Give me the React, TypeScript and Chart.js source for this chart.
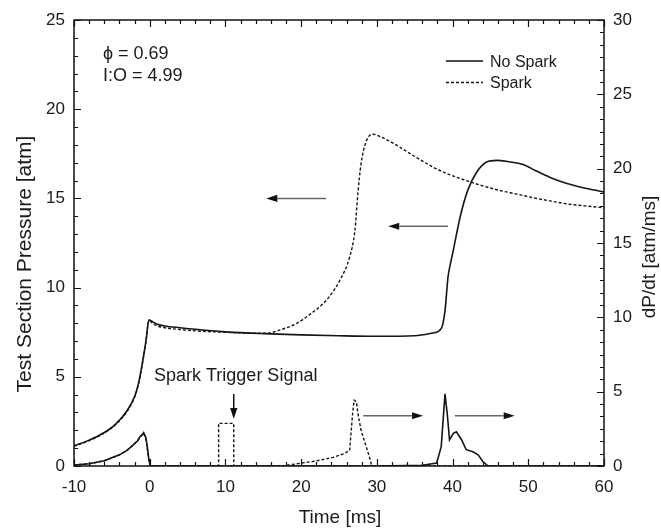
import React, { useEffect, useRef } from "react";
import { Chart, registerables } from "chart.js";

Chart.register(...registerables);

const FONT = "'Liberation Sans', Arial, Helvetica, sans-serif";

// ---- Pressure, no spark (left axis, atm)
const timeNoSparkP = [-10, -8, -6, -4.5, -3, -2, -1.5, -1, -0.5, -0.1, 0.5, 1, 2, 4, 7, 10, 15, 20, 25, 30, 35, 37.4, 38.5, 39, 39.4, 39.75, 40.1, 41, 42, 43.2, 44.5, 45.8, 47.5, 49.3, 51, 53.3, 55, 56.8, 58.5, 60];
const pressureNoSpark = [1.14, 1.45, 1.88, 2.35, 3.1, 3.9, 4.6, 5.7, 7.0, 8.2, 8.05, 7.95, 7.85, 7.75, 7.62, 7.52, 7.42, 7.35, 7.3, 7.27, 7.3, 7.46, 7.7, 8.7, 10.6, 11.4, 12.1, 13.96, 15.45, 16.48, 17.04, 17.13, 17.05, 16.9, 16.55, 16.1, 15.85, 15.64, 15.48, 15.36];

// ---- Pressure, spark (left axis, atm)
const timeSparkP = [-10, -8, -6, -4.5, -3, -2, -1.5, -1, -0.5, -0.1, 0.5, 1, 2, 4, 7, 10, 13, 15.4, 17, 19.4, 21, 22.9, 24, 25.1, 26.4, 27.1, 27.5, 27.9, 28.6, 29.5, 30.5, 31.7, 33, 35, 37.4, 39.5, 41.8, 44, 46.2, 48.5, 50.6, 53, 55, 57.5, 60];
const pressureSpark = [1.1, 1.42, 1.85, 2.32, 3.05, 3.85, 4.55, 5.65, 6.95, 8.15, 7.95, 7.85, 7.75, 7.65, 7.55, 7.5, 7.45, 7.44, 7.6, 7.99, 8.45, 9.1, 9.65, 10.4, 11.7, 13.2, 15.3, 16.9, 18.2, 18.6, 18.45, 18.2, 17.88, 17.35, 16.76, 16.35, 16.0, 15.7, 15.45, 15.24, 15.04, 14.85, 14.7, 14.58, 14.48];

// ---- dP/dt, no spark (right axis, atm/ms)
const timeNoSparkD = [-10, -8, -6, -5, -4, -3, -2.2, -1.6, -1.3, -1.0, -0.8, -0.5, -0.3, -0.1, 0.1, 5, 10, 20, 30, 36, 37.9, 38.5, 39, 39.3, 39.6, 40.1, 40.5, 41.2, 41.8, 42.7, 43.4, 44, 44.7, 50, 60];
const dpdtNoSpark = [0.07, 0.15, 0.35, 0.55, 0.75, 1.05, 1.41, 1.7, 1.97, 2.1, 2.24, 1.9, 1.2, 0.4, 0, 0, 0, 0, 0, 0.05, 0.2, 1.3, 4.85, 3.5, 1.75, 2.2, 2.3, 1.75, 1.1, 0.96, 0.74, 0.3, 0, 0, 0];

// ---- dP/dt, spark incl. trigger signal (right axis, atm/ms)
const timeSparkD = [-10, -8, -6, -5, -4, -3, -2.2, -1.6, -1.3, -1.0, -0.8, -0.5, -0.3, -0.1, 0.1, 9.1, 9.1, 11.1, 11.1, 17.5, 19.8, 22, 24.2, 25.5, 26.4, 26.8, 27, 27.3, 27.5, 27.9, 28.6, 29, 29.3, 29.6, 60];
const dpdtSpark = [0.07, 0.15, 0.35, 0.55, 0.75, 1.05, 1.41, 1.7, 1.9, 2.1, 2.2, 1.8, 1.1, 0.3, 0, 0, 2.87, 2.87, 0, 0, 0.18, 0.34, 0.58, 0.8, 1.03, 3.54, 4.43, 4.32, 3.54, 2.42, 1.3, 0.63, 0.07, 0, 0];

// ---- axes
const xRange = [-10, 60];
const leftRange = [0, 25];
const rightRange = [0, 30];

// ---- annotation arrows in data coordinates [t0, v0, t1, v1] (head at t1,v1)
const arrowsLeft = [
  [23.3, 15.0, 15.4, 15.0],
  [39.4, 13.44, 31.5, 13.44],
];
const arrowsRight = [
  [28.2, 3.38, 36.1, 3.38],
  [40.3, 3.38, 48.2, 3.38],
];
const triggerArrow = [11.1, 4.03, 11.1, 2.63];

const pts = (xs: number[], ys: number[]) => xs.map((x, i) => ({ x, y: ys[i] }));

function drawArrow(ctx: CanvasRenderingContext2D, x0: number, y0: number, x1: number, y1: number, lineColor: string, headColor: string) {
  const ang = Math.atan2(y1 - y0, x1 - x0);
  const L = 11, W = 3.6;
  const bx = x1 - L * Math.cos(ang), by = y1 - L * Math.sin(ang);
  ctx.strokeStyle = lineColor;
  ctx.lineWidth = 1.5;
  ctx.setLineDash([]);
  ctx.beginPath();
  ctx.moveTo(x0, y0);
  ctx.lineTo(bx, by);
  ctx.stroke();
  ctx.fillStyle = headColor;
  ctx.beginPath();
  ctx.moveTo(x1, y1);
  ctx.lineTo(bx - W * Math.sin(ang), by + W * Math.cos(ang));
  ctx.lineTo(bx + W * Math.sin(ang), by - W * Math.cos(ang));
  ctx.closePath();
  ctx.fill();
}

const decorPlugin = {
  id: "decor",
  afterDraw(chart: any) {
    const { ctx, chartArea: a, scales } = chart;
    const sx = scales.x, sy = scales.y, sy2 = scales.y2;
    ctx.save();
    // frame
    ctx.strokeStyle = "#111";
    ctx.lineWidth = 1.5;
    ctx.setLineDash([]);
    ctx.strokeRect(a.left, a.top, a.right - a.left, a.bottom - a.top);
    // inward ticks on all four sides
    ctx.lineWidth = 1.2;
    ctx.beginPath();
    for (let t = xRange[0]; t <= xRange[1] + 1e-9; t += 2) {
      const px = Math.round(sx.getPixelForValue(t)) + 0.5;
      const len = Math.abs(t % 10) < 1e-6 ? 7 : 4;
      ctx.moveTo(px, a.bottom); ctx.lineTo(px, a.bottom - len);
      ctx.moveTo(px, a.top); ctx.lineTo(px, a.top + len);
    }
    for (let v = leftRange[0]; v <= leftRange[1] + 1e-9; v += 1) {
      const py = Math.round(sy.getPixelForValue(v)) + 0.5;
      const len = Math.abs(v % 5) < 1e-6 ? 7 : 4;
      ctx.moveTo(a.left, py); ctx.lineTo(a.left + len, py);
    }
    for (let k = 0; k <= 36; k++) {
      const v = (k * 5) / 6;
      const py = Math.round(sy2.getPixelForValue(v)) + 0.5;
      const len = k % 6 === 0 ? 7 : 4;
      ctx.moveTo(a.right, py); ctx.lineTo(a.right - len, py);
    }
    ctx.stroke();

    // arrows
    for (const [t0, v0, t1, v1] of arrowsLeft) {
      drawArrow(ctx, sx.getPixelForValue(t0), sy.getPixelForValue(v0), sx.getPixelForValue(t1), sy.getPixelForValue(v1), "#666", "#111");
    }
    for (const [t0, v0, t1, v1] of arrowsRight) {
      drawArrow(ctx, sx.getPixelForValue(t0), sy2.getPixelForValue(v0), sx.getPixelForValue(t1), sy2.getPixelForValue(v1), "#666", "#111");
    }
    {
      const [t0, v0, t1, v1] = triggerArrow;
      drawArrow(ctx, sx.getPixelForValue(t0), sy.getPixelForValue(v0), sx.getPixelForValue(t1), sy.getPixelForValue(v1), "#111", "#111");
    }

    // texts
    ctx.fillStyle = "#1a1a1a";
    ctx.textAlign = "left";
    ctx.textBaseline = "alphabetic";
    ctx.font = `18px ${FONT}`;
    ctx.fillText("\u03d5 = 0.69", 103, 59);
    ctx.fillText("I:O = 4.99", 103, 81);
    ctx.fillText("Spark Trigger Signal", 154, 381);

    // legend
    ctx.font = `16px ${FONT}`;
    ctx.fillText("No Spark", 490, 67);
    ctx.fillText("Spark", 490, 88);
    ctx.strokeStyle = "#111";
    ctx.lineWidth = 1.5;
    ctx.beginPath(); ctx.moveTo(446, 61); ctx.lineTo(483, 61); ctx.stroke();
    ctx.setLineDash([3, 2]);
    ctx.beginPath(); ctx.moveTo(446, 82.5); ctx.lineTo(483, 82.5); ctx.stroke();
    ctx.setLineDash([]);

    // axis titles
    ctx.textAlign = "center";
    ctx.font = `19px ${FONT}`;
    ctx.fillText("Time [ms]", (a.left + a.right) / 2 + 1, 523);
    ctx.save();
    ctx.translate(25, 264);
    ctx.rotate(-Math.PI / 2);
    ctx.textBaseline = "middle";
    ctx.font = `21px ${FONT}`;
    ctx.fillText("Test Section Pressure [atm]", 0, 0);
    ctx.restore();
    ctx.save();
    ctx.translate(650, 257);
    ctx.rotate(-Math.PI / 2);
    ctx.textBaseline = "middle";
    ctx.font = `19px ${FONT}`;
    ctx.fillText("dP/dt [atm/ms]", 0, 0);
    ctx.restore();

    ctx.restore();
  },
};

export default function App() {
  const ref = useRef<HTMLCanvasElement | null>(null);
  useEffect(() => {
    if (!ref.current) return;
    const tickFont = { family: FONT, size: 17 };
    const chart = new Chart(ref.current, {
      type: "line",
      data: {
        datasets: [
          { label: "No Spark", data: pts(timeNoSparkP, pressureNoSpark), yAxisID: "y", borderColor: "#151515", borderWidth: 1.6, pointRadius: 0, cubicInterpolationMode: "monotone" },
          { label: "Spark", data: pts(timeSparkP, pressureSpark), yAxisID: "y", borderColor: "#151515", borderWidth: 1.4, borderDash: [3, 2], pointRadius: 0, cubicInterpolationMode: "monotone" },
          { label: "No Spark dP/dt", data: pts(timeNoSparkD, dpdtNoSpark), yAxisID: "y2", borderColor: "#151515", borderWidth: 1.6, pointRadius: 0, tension: 0 },
          { label: "Spark dP/dt", data: pts(timeSparkD, dpdtSpark), yAxisID: "y2", borderColor: "#151515", borderWidth: 1.4, borderDash: [3, 2], pointRadius: 0, tension: 0 },
        ],
      },
      options: {
        responsive: false,
        animation: false,
        devicePixelRatio: 1,
        layout: { padding: { top: 20, left: 0, right: 0, bottom: 0 } },
        plugins: { legend: { display: false }, tooltip: { enabled: false } },
        scales: {
          x: {
            type: "linear", position: "bottom", min: xRange[0], max: xRange[1],
            grid: { display: false, drawTicks: false }, border: { display: false },
            ticks: { stepSize: 10, font: tickFont, color: "#1a1a1a", padding: 11, maxRotation: 0 },
            afterFit: (s: any) => { s.height = 62; },
          },
          y: {
            type: "linear", position: "left", min: leftRange[0], max: leftRange[1],
            grid: { display: false, drawTicks: false }, border: { display: false },
            ticks: { stepSize: 5, font: tickFont, color: "#1a1a1a", padding: 9 },
            afterFit: (s: any) => { s.width = 74; },
          },
          y2: {
            type: "linear", position: "right", min: rightRange[0], max: rightRange[1],
            grid: { display: false, drawTicks: false }, border: { display: false },
            ticks: { stepSize: 5, font: tickFont, color: "#1a1a1a", padding: 9 },
            afterFit: (s: any) => { s.width = 57; },
          },
        },
      } as any,
      plugins: [decorPlugin],
    });
    return () => chart.destroy();
  }, []);
  return (
    <div style={{ position: "fixed", left: 0, top: 0, width: 661, height: 528, background: "#fff" }}>
      <canvas ref={ref} width={661} height={528} />
    </div>
  );
}
